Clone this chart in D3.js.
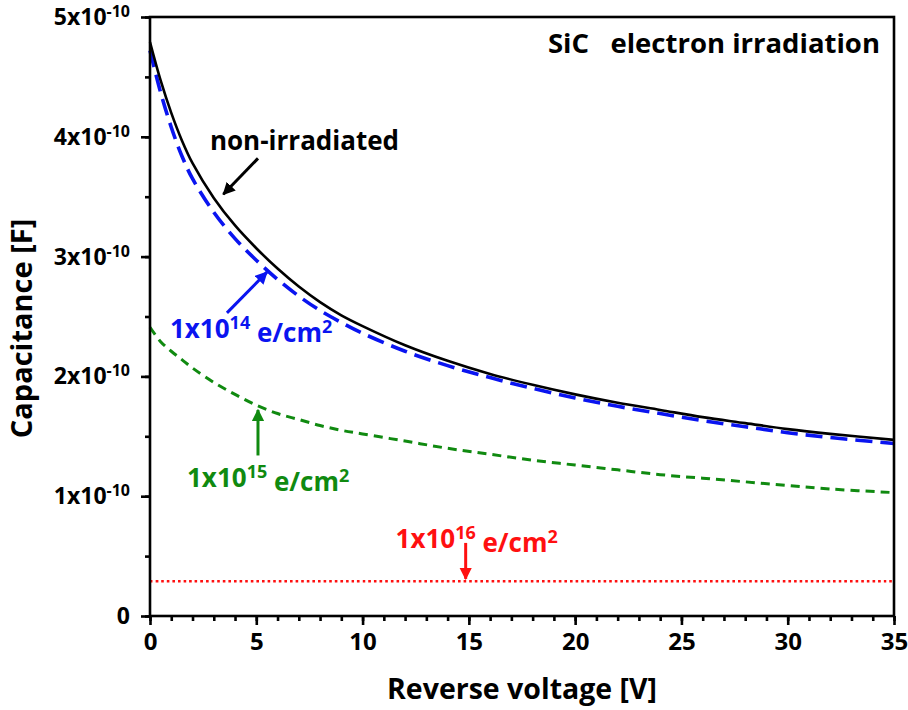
<!DOCTYPE html>
<html>
<head>
<meta charset="utf-8">
<script src="https://cdn.jsdelivr.net/npm/d3@7"></script>
<style>
  body { margin: 0; background: #fff; }
  text { font-family: "Open Sans", Lato, sans-serif; font-weight: bold; }
</style>
</head>
<body>
<div id="chart"></div>
<script>
const width = 908, height = 710;
const margin = { top: 17, right: 14, bottom: 94, left: 150 };

// Reverse voltage [V]
const voltage = [0, 0.5, 1, 1.5, 2, 3, 4, 5, 6, 7, 8, 9, 10, 12, 14, 16, 18, 20, 22, 24, 26, 28, 30, 32, 35];
// Capacitance in units of 1e-10 F
const nonIrradiated = [4.79, 4.47, 4.20, 3.97, 3.78, 3.49, 3.26, 3.07, 2.90, 2.75, 2.62, 2.51, 2.42, 2.26, 2.13, 2.02, 1.93, 1.85, 1.78, 1.72, 1.66, 1.61, 1.56, 1.52, 1.47];
const dose1e14 = [4.72, 4.37, 4.08, 3.84, 3.65, 3.37, 3.15, 2.97, 2.81, 2.67, 2.55, 2.45, 2.36, 2.21, 2.09, 1.99, 1.90, 1.82, 1.75, 1.69, 1.63, 1.58, 1.53, 1.49, 1.44];
const dose1e15 = [2.41, 2.29, 2.21, 2.14, 2.07, 1.95, 1.85, 1.76, 1.69, 1.64, 1.59, 1.55, 1.52, 1.46, 1.40, 1.35, 1.30, 1.26, 1.22, 1.18, 1.15, 1.12, 1.09, 1.06, 1.03];
const dose1e16 = [0.29, 0.29, 0.29, 0.29, 0.29, 0.29, 0.29, 0.29, 0.29, 0.29, 0.29, 0.29, 0.29, 0.29, 0.29, 0.29, 0.29, 0.29, 0.29, 0.29, 0.29, 0.29, 0.29, 0.29, 0.29];

const xTicks = [0, 5, 10, 15, 20, 25, 30, 35];
const yTicks = [0, 1, 2, 3, 4, 5];
const yTickLabels = ["0", "1x10|-10", "2x10|-10", "3x10|-10", "4x10|-10", "5x10|-10"];

const series = [
  { name: "non-irradiated", values: nonIrradiated, color: "#000000", width: 2.6, dash: null },
  { name: "1e14", values: dose1e14, color: "#0a14f0", width: 3.6, dash: "17,8" },
  { name: "1e15", values: dose1e15, color: "#108a10", width: 3, dash: "9,6" },
  { name: "1e16", values: dose1e16, color: "#ff1010", width: 2.6, dash: "2.6,3" }
];

// annotations: label position, arrow start, arrow tip (data units)
const annotations = [
  { color: "#000000", base: "non-irradiated", sup: "", tail: "", at: [2.82, 3.89], from: [5.08, 3.82], to: [3.45, 3.52] },
  { color: "#0a14f0", base: "1x10", sup: "14", tail: " e/cm", at: [0.94, 2.32], from: [3.62, 2.53], to: [5.5, 2.87] },
  { color: "#108a10", base: "1x10", sup: "15", tail: " e/cm", at: [1.74, 1.08], from: [5.08, 1.34], to: [5.08, 1.72] },
  { color: "#ff1010", base: "1x10", sup: "16", tail: " e/cm", at: [11.55, 0.57], from: [14.85, 0.61], to: [14.85, 0.31] }
];

const svg = d3.select("#chart").append("svg")
  .attr("width", width)
  .attr("height", height);

const xScale = d3.scaleLinear().domain([0, 35]).range([margin.left, width - margin.right]);
const yScale = d3.scaleLinear().domain([0, 5]).range([height - margin.bottom, margin.top]);

// arrow heads
const defs = svg.append("defs");
annotations.forEach((a, i) => {
  defs.append("marker")
    .attr("id", "head" + i)
    .attr("viewBox", "0 0 10 10")
    .attr("refX", 9)
    .attr("refY", 5)
    .attr("markerWidth", 4.2)
    .attr("markerHeight", 4.2)
    .attr("markerUnits", "strokeWidth")
    .attr("orient", "auto")
    .append("path")
    .attr("d", "M0,0 L10,5 L0,10 Z")
    .attr("fill", a.color);
});

// curves
const line = d3.line()
  .x((d, i) => xScale(voltage[i]))
  .y(d => yScale(d))
  .curve(d3.curveCatmullRom.alpha(0.5));

// draw order: green, red, blue, black on top
[series[2], series[3], series[1], series[0]].forEach(s => {
  svg.append("path")
    .datum(s.values)
    .attr("d", line)
    .attr("fill", "none")
    .attr("stroke", s.color)
    .attr("stroke-width", s.width)
    .attr("stroke-dasharray", s.dash);
});

// frame
svg.append("rect")
  .attr("x", xScale(0))
  .attr("y", yScale(5))
  .attr("width", xScale(35) - xScale(0))
  .attr("height", yScale(0) - yScale(5))
  .attr("fill", "none")
  .attr("stroke", "#000")
  .attr("stroke-width", 2.6);

// x axis
const xAxis = svg.append("g")
  .attr("transform", `translate(0, ${yScale(0)})`)
  .call(d3.axisBottom(xScale).tickValues(xTicks).tickSize(9).tickPadding(8).tickFormat(d3.format("d")));
svg.append("g")
  .attr("transform", `translate(0, ${yScale(0)})`)
  .call(d3.axisBottom(xScale).tickValues(d3.range(0, 36, 1)).tickSize(5).tickFormat(""));

// y axis
svg.append("g")
  .attr("transform", `translate(${xScale(0)}, 0)`)
  .call(d3.axisLeft(yScale).tickValues(yTicks).tickSize(9).tickFormat(""));
svg.append("g")
  .attr("transform", `translate(${xScale(0)}, 0)`)
  .call(d3.axisLeft(yScale).tickValues(d3.range(0, 5.01, 0.5)).tickSize(5).tickFormat(""));

svg.selectAll(".domain").remove();
svg.selectAll(".tick line").attr("stroke", "#000").attr("stroke-width", 2.6);

xAxis.selectAll(".tick text")
  .attr("fill", "#000")
  .style("font-size", "24px")
  .style("font-family", "'Open Sans', sans-serif")
  .style("font-weight", "bold");

// y tick labels with superscript exponents
yTicks.forEach((v, i) => {
  const parts = yTickLabels[i].split("|");
  const t = svg.append("text")
    .attr("x", xScale(0) - 20)
    .attr("y", yScale(v) + 8)
    .attr("fill", "#000")
    .attr("text-anchor", "end")
    .style("font-size", "23px");
  t.append("tspan").text(parts[0]);
  if (parts[1]) {
    t.append("tspan").attr("dy", "-0.5em").style("font-size", "16px").text(parts[1]);
  }
});

// axis titles
svg.append("text")
  .attr("x", (xScale(0) + xScale(35)) / 2)
  .attr("y", 699)
  .attr("text-anchor", "middle")
  .style("font-size", "28.5px")
  .text("Reverse voltage [V]");

svg.append("text")
  .attr("transform", `translate(32, ${yScale(2.4)}) rotate(-90)`)
  .attr("text-anchor", "middle")
  .style("font-size", "29px")
  .text("Capacitance [F]");

// title inside plot
svg.append("text")
  .attr("x", xScale(34.34))
  .attr("y", yScale(4.7))
  .attr("text-anchor", "end")
  .style("white-space", "pre")
  .style("font-size", "27.5px")
  .text("SiC   electron irradiation");

// annotations
annotations.forEach((a, i) => {
  svg.append("line")
    .attr("x1", xScale(a.from[0]))
    .attr("y1", yScale(a.from[1]))
    .attr("x2", xScale(a.to[0]))
    .attr("y2", yScale(a.to[1]))
    .attr("stroke", a.color)
    .attr("stroke-width", 3)
    .attr("marker-end", `url(#head${i})`);

  const t = svg.append("text")
    .attr("x", xScale(a.at[0]))
    .attr("y", yScale(a.at[1]))
    .attr("fill", a.color)
    .style("white-space", "pre")
    .style("font-size", "26px");
  t.append("tspan").text(a.base);
  if (a.sup) {
    t.append("tspan").attr("dy", "-0.5em").style("font-size", "18px").text(a.sup);
    t.append("tspan").attr("dy", "0.5em").text(a.tail);
    t.append("tspan").attr("dy", "-0.5em").style("font-size", "18px").text("2");
  }
});
</script>
</body>
</html>
